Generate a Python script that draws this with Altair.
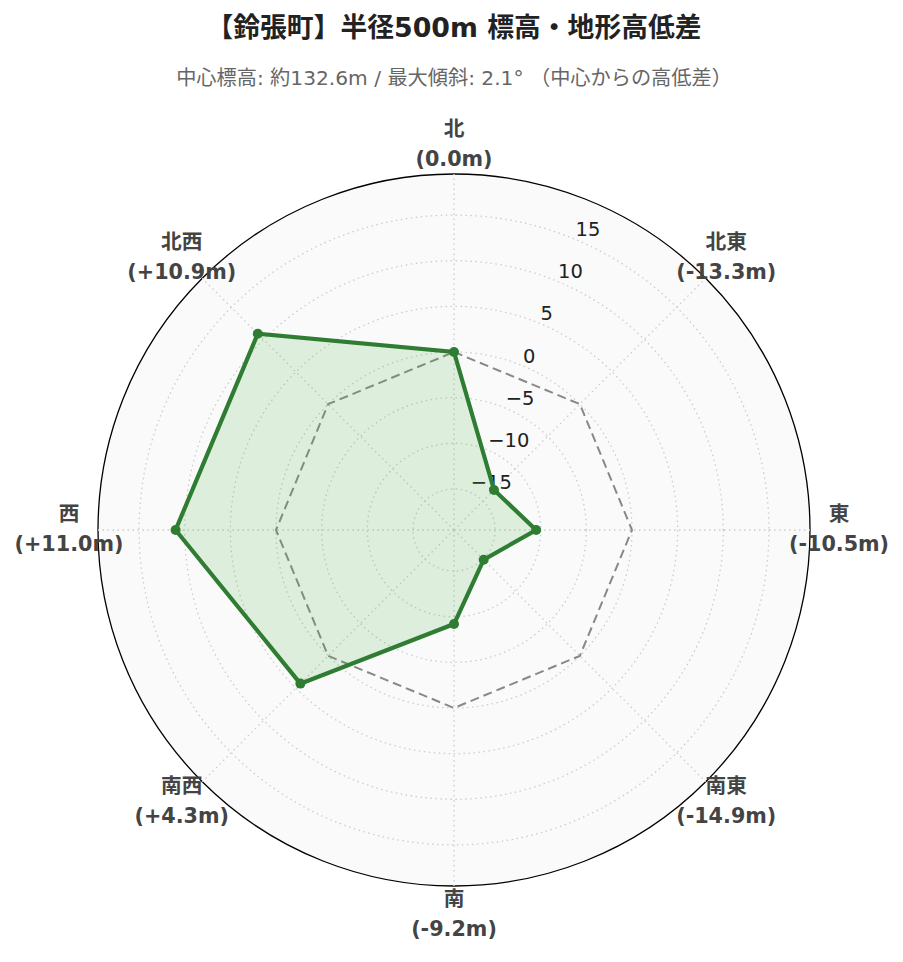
import math
import altair as alt
import pandas as pd

# ---- data ----
directions = ["北", "北東", "東", "南東", "南", "南西", "西", "北西"]
values = [0.0, -13.3, -10.5, -14.9, -9.2, 4.3, 11.0, 10.9]
grid_values = [-15, -10, -5, 0, 5, 10, 15]
grid_labels = ["−15", "−10", "−5", "0", "5", "10", "15"]

title_text = "【鈴張町】半径500m 標高・地形高低差"
subtitle_text = "中心標高: 約132.6m / 最大傾斜: 2.1° （中心からの高低差）"

R_MIN, R_MAX = -19.5, 19.5
SPAN = R_MAX - R_MIN
PLOT = 712
LABEL_RR = SPAN * 385 / 356
FONT = "DejaVu Sans, Noto Sans CJK JP"


def fmt(v):
    return "(0.0m)" if v == 0 else f"({v:+.1f}m)"


df = pd.DataFrame({
    "idx": list(range(len(directions))),
    "dir": directions,
    "value": values,
    "label": [f"{d}\n{fmt(v)}" for d, v in zip(directions, values)],
})
zero_df = pd.DataFrame({"idx": list(range(len(directions))), "value": [0.0] * len(directions)})
grid_df = pd.DataFrame({"value": grid_values, "label": grid_labels})
outer_df = pd.DataFrame({"value": [R_MAX]})

xs = alt.Scale(domain=[-SPAN, SPAN], nice=False, zero=False)
ys = alt.Scale(domain=[-SPAN, SPAN], nice=False, zero=False)
# circle symbol: diameter = sqrt(size)  ->  size proportional to rr^2
ss = alt.Scale(type="linear", domain=[0, SPAN ** 2], range=[0, PLOT ** 2], zero=True, nice=False)


def polar(chart, angle_expr, rr_expr):
    return chart.transform_calculate(
        angle=angle_expr, rr=rr_expr
    ).transform_calculate(
        px="datum.rr * sin(datum.angle)", py="datum.rr * cos(datum.angle)"
    )


X = alt.X("px:Q", scale=xs, axis=None)
Y = alt.Y("py:Q", scale=ys, axis=None)
CX = alt.X("cx:Q", scale=xs, axis=None)
CY = alt.Y("cy:Q", scale=ys, axis=None)
RING = alt.Size("d2:Q", scale=ss, legend=None)


def ring(chart):
    return chart.transform_calculate(
        rr=f"datum.value - ({R_MIN})", cx="0", cy="0"
    ).transform_calculate(d2="datum.rr * datum.rr")


bg = ring(alt.Chart(outer_df)).mark_point(
    shape="circle", filled=True, fill="#fafafa", stroke="#000000", strokeWidth=1.3,
    opacity=1, fillOpacity=1, strokeOpacity=1
).encode(x=CX, y=CY, size=RING)

grid = ring(alt.Chart(grid_df)).mark_point(
    shape="circle", filled=False, stroke="#cccccc", strokeWidth=1.3, strokeDash=[1.5, 3.5],
    opacity=1
).encode(x=CX, y=CY, size=RING)

spokes = polar(alt.Chart(df), "datum.idx * PI / 4", f"{SPAN}").transform_calculate(
    ox="0", oy="0"
).mark_rule(color="#cccccc", strokeWidth=1.3, strokeDash=[1.5, 3.5]).encode(
    x=alt.X("ox:Q", scale=xs, axis=None), y=alt.Y("oy:Q", scale=ys, axis=None),
    x2="px:Q", y2="py:Q",
)

ticks = polar(alt.Chart(grid_df), "PI / 8", f"datum.value - ({R_MIN})").mark_text(
    align="left", baseline="middle", dx=1, dy=-9, fontSize=19.5, font=FONT, color="#222222"
).encode(x=X, y=Y, text="label:N")

zero_line = polar(alt.Chart(zero_df), "datum.idx * PI / 4", f"datum.value - ({R_MIN})").mark_line(
    interpolate="linear-closed", stroke="#888888", strokeWidth=2, strokeDash=[9, 5]
).encode(x=X, y=Y, order="idx:Q")

poly = polar(alt.Chart(df), "datum.idx * PI / 4", f"datum.value - ({R_MIN})").mark_line(
    interpolate="linear-closed", stroke="#2e7d32", strokeWidth=4.2, fill="#4caf50", fillOpacity=0.17
).encode(x=X, y=Y, order="idx:Q")

pts = polar(alt.Chart(df), "datum.idx * PI / 4", f"datum.value - ({R_MIN})").mark_circle(
    size=100, color="#2e7d32", opacity=1
).encode(x=X, y=Y)

dir_labels = polar(alt.Chart(df), "datum.idx * PI / 4", f"{LABEL_RR}").mark_text(
    align="center", baseline="middle", lineBreak="\n", lineHeight=30, fontSize=20.7, dy=-15,
    fontWeight="bold", font=FONT, color="#444444"
).encode(x=X, y=Y, text="label:N")

chart = alt.layer(bg, grid, spokes, ticks, zero_line, poly, pts, dir_labels).properties(
    width=PLOT, height=PLOT,
    autosize=alt.AutoSizeParams(type="none"),
    padding={"left": 90, "top": 166, "right": 85, "bottom": 60},
    title=alt.TitleParams(
        text=title_text, subtitle=subtitle_text, anchor="middle", frame="group",
        fontSize=26.8, fontWeight="bold", font=FONT, color="#222222",
        subtitleFontSize=20.2, subtitleFont=FONT, subtitleColor="#666666",
        subtitlePadding=26, offset=30,
    ),
).configure_view(stroke=None)

chart.save("out.html", embed_options={"renderer": "svg", "actions": False})
